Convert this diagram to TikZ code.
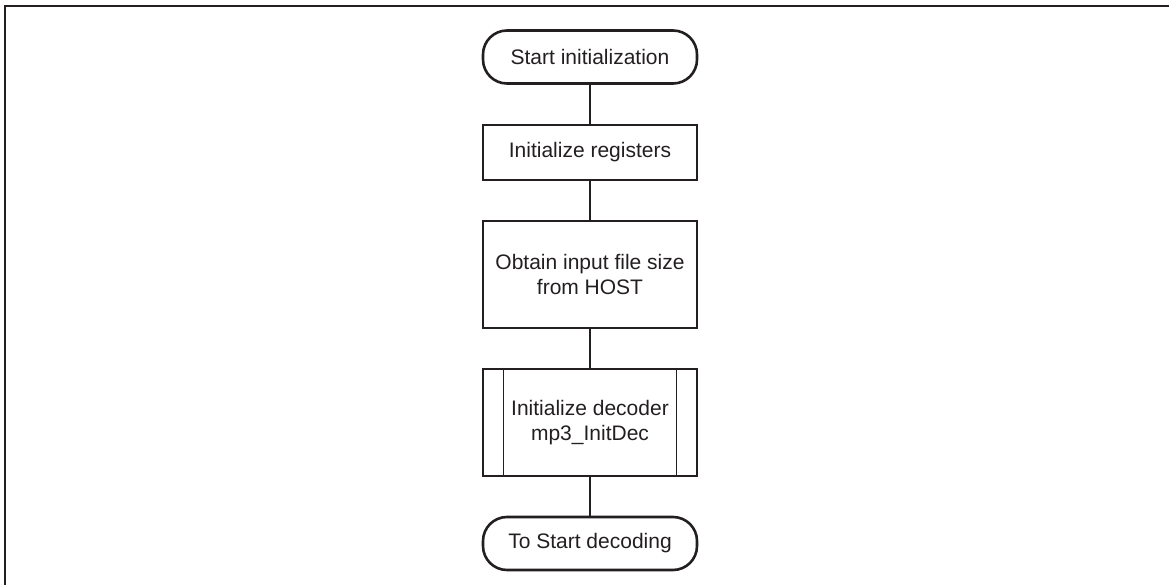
\documentclass[tikz,border=0pt]{standalone}
\usepackage{fontspec}
\setmainfont{Liberation Sans}
\definecolor{ink}{HTML}{231F20}
\begin{document}
\begin{tikzpicture}[x=1pt,y=1pt,
  every node/.style={font=\fontsize{21}{25}\selectfont, text=ink, align=center, inner sep=0pt},
  term/.style={draw=ink, line width=2.6pt, rounded corners=24pt, minimum width=214pt, minimum height=53pt},
  proc/.style={draw=ink, line width=2.6pt, minimum width=214pt},
  conn/.style={draw=ink, line width=1.3pt}]
\useasboundingbox (0,0) rectangle (1169,-585);
\draw[ink, line width=2pt] (5,-585) -- (5,-6) -- (1169,-6);
\node[term] (start) at (590,-57) {Start initialization};
\node[proc, minimum height=55pt] (reg) at (590,-152.5) {Initialize registers};
\node[proc, minimum height=107pt] (size) at (590,-274.5) {Obtain input file size\\from HOST};
\node[proc, minimum height=107pt] (dec) at (590,-422.5) {Initialize decoder\\mp3\_InitDec};
\node[term] (end) at (590,-543.5) {To Start decoding};
\draw[conn] ([xshift=22pt]dec.north west) -- ([xshift=22pt]dec.south west);
\draw[conn] ([xshift=-22pt]dec.north east) -- ([xshift=-22pt]dec.south east);
\draw[conn] (start) -- (reg);
\draw[conn] (reg) -- (size);
\draw[conn] (size) -- (dec);
\draw[conn] (dec) -- (end);
\end{tikzpicture}
\end{document}
